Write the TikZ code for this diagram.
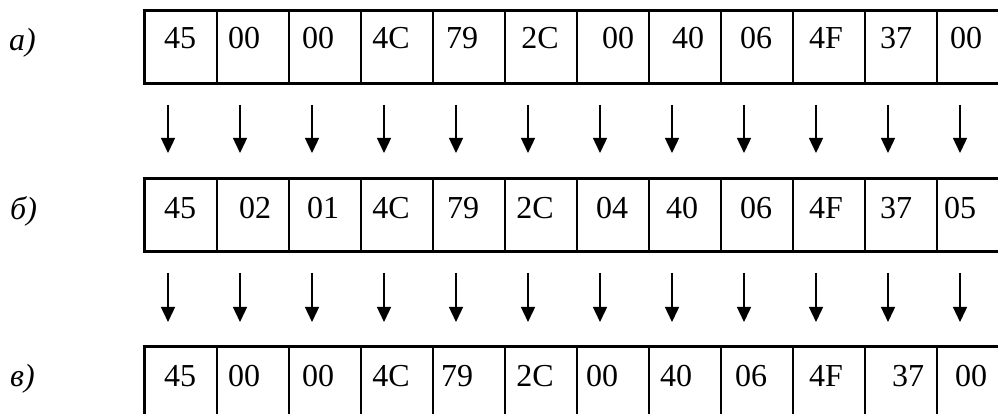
\documentclass[tikz,border=0pt]{standalone}
\usepackage{fontspec}
\setmainfont{Liberation Serif}
\usetikzlibrary{arrows.meta}
\begin{document}
\begin{tikzpicture}[x=1pt,y=1pt,
  cellbox/.style={draw, line width=1.7pt, minimum width=72pt, minimum height=72pt, inner sep=0pt, anchor=north west},
  frame/.style={draw, line width=2.2pt},
  val/.style={anchor=base, font=\fontsize{32}{38}\selectfont, inner sep=0pt},
  lab/.style={anchor=base west, font=\itshape\fontsize{32}{38}\selectfont, inner sep=0pt},
  arr/.style={line width=1.4pt, -{Triangle[length=15pt,width=14pt]}}]
\useasboundingbox (0,0) rectangle (998,414);
\clip (0,0) rectangle (998,414);

% row labels
\node[lab] (la) at (9,363) {а)};
\node[lab] (lb) at (10,194) {б)};
\node[lab] (lc) at (10,27) {в)};

% cells
\foreach \r/\top in {a/404, b/236, c/68}{
  \foreach \k in {0,...,11}{
    \node[cellbox] (\r\k) at ({144+72*\k},\top) {};
  }
  \draw[frame] (\r0.north west) rectangle (\r11.south east);
}

% values
\foreach \k/\v/\o in {0/45/0, 1/00/-8, 2/00/-6, 3/4C/-5, 4/79/-6, 5/2C/0, 6/00/6, 7/40/4, 8/06/0, 9/4F/-2, 10/37/-4, 11/00/-6}{
  \node[val] (ta\k) at ({180+72*\k+\o},365) {\v};
}
\foreach \k/\v/\o in {0/45/0, 1/02/3, 2/01/-1, 3/4C/-5, 4/79/-5, 5/2C/-5, 6/04/0, 7/40/-2, 8/06/0, 9/4F/-2, 10/37/-4, 11/05/-12}{
  \node[val] (tb\k) at ({180+72*\k+\o},195) {\v};
}
\foreach \k/\v/\o in {0/45/0, 1/00/-8, 2/00/-6, 3/4C/-5, 4/79/-11, 5/2C/-5, 6/00/-10, 7/40/-8, 8/06/-5, 9/4F/-2, 10/37/8, 11/00/-1}{
  \node[val] (tc\k) at ({180+72*\k+\o},27) {\v};
}

% arrows
\foreach \k in {0,...,11}{
  \coordinate (s1\k) at ({168+72*\k},309);
  \coordinate (e1\k) at ({168+72*\k},261);
  \coordinate (s2\k) at ({168+72*\k},141);
  \coordinate (e2\k) at ({168+72*\k},92);
  \draw[arr] (s1\k) -- (e1\k);
  \draw[arr] (s2\k) -- (e2\k);
}
\end{tikzpicture}
\end{document}
